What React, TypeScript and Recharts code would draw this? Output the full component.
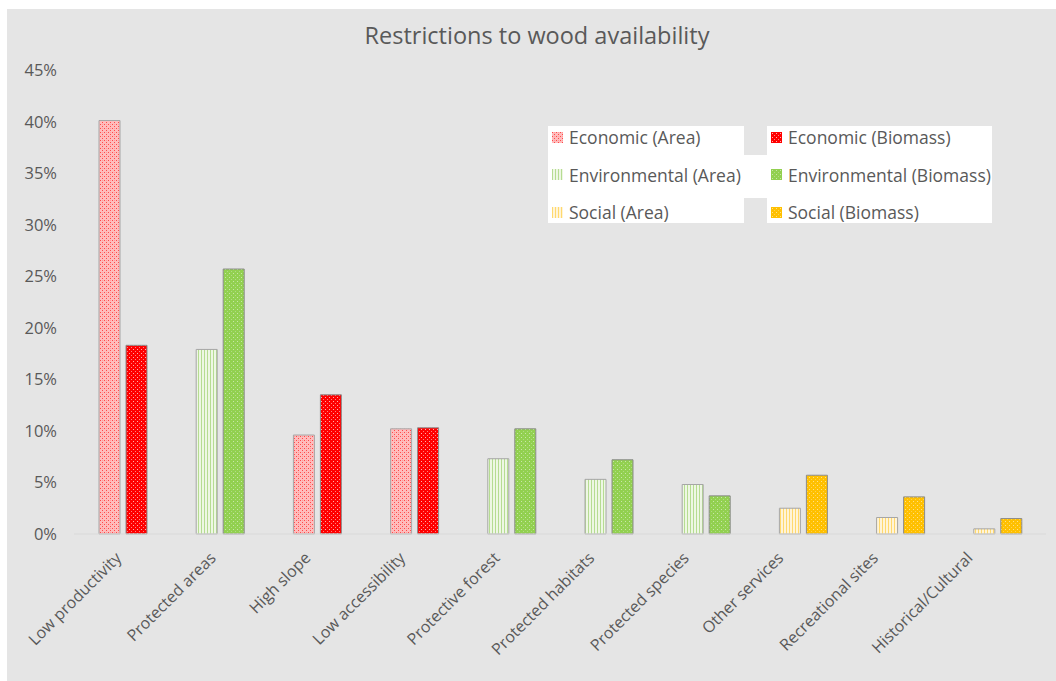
import React from 'react';
import { BarChart, Bar, XAxis, YAxis, Cell, Legend, ReferenceLine } from 'recharts';

const categories = [
  'Low productivity',
  'Protected areas',
  'High slope',
  'Low accessibility',
  'Protective forest',
  'Protected habitats',
  'Protected species',
  'Other services',
  'Recreational sites',
  'Historical/Cultural',
];
const groups = ['eco', 'env', 'eco', 'eco', 'env', 'env', 'env', 'soc', 'soc', 'soc'];
const areaValues = [40.1, 17.9, 9.6, 10.2, 7.3, 5.3, 4.8, 2.5, 1.6, 0.5];
const biomassValues = [18.3, 25.7, 13.5, 10.3, 10.2, 7.2, 3.7, 5.7, 3.6, 1.5];
const yTicks = [0, 5, 10, 15, 20, 25, 30, 35, 40, 45];

const legendLeft = [
  { label: 'Economic (Area)', fill: 'url(#eco-area)' },
  { label: 'Environmental (Area)', fill: 'url(#env-area)' },
  { label: 'Social (Area)', fill: 'url(#soc-area)' },
];
const legendRight = [
  { label: 'Economic (Biomass)', fill: 'url(#eco-bio)' },
  { label: 'Environmental (Biomass)', fill: 'url(#env-bio)' },
  { label: 'Social (Biomass)', fill: 'url(#soc-bio)' },
];

const data = categories.map((name, i) => ({
  name,
  group: groups[i],
  area: areaValues[i],
  biomass: biomassValues[i],
}));

const FONT = '"Open Sans", sans-serif';
const TEXT = '#595959';

const YTick = ({ y, payload }: any) => (
  <text x={57} y={y} dy={6} textAnchor="end" fill={TEXT} fontSize={16.5} fontFamily={FONT}>
    {payload.value}%
  </text>
);

const XLabel = ({ x, y, payload }: any) => (
  <g transform={`translate(${x + 1},${y - 13})`}>
    <text x={0} y={0} textAnchor="end" transform="rotate(-45)" fill={TEXT} fontSize={16} fontFamily={FONT}>
      {payload.value}
    </text>
  </g>
);

const rowTops = [0, 37.5, 75];

const LegendBox = () => {
  const col = (items: any[], left: number, width: number) => (
    <div style={{ position: 'absolute', left, top: 0, width, height: 97, background: '#fff' }}>
      {items.map((item, i) => (
        <div
          key={item.label}
          style={{ position: 'absolute', left: 4, top: rowTops[i], height: 22, display: 'flex', alignItems: 'center' }}
        >
          <svg width={11} height={11} style={{ marginRight: 6 }}>
            <rect width={11} height={11} fill={item.fill} />
          </svg>
          <span style={{ fontSize: 17.5, color: TEXT, fontFamily: FONT, whiteSpace: 'nowrap', lineHeight: '22px' }}>
            {item.label}
          </span>
        </div>
      ))}
    </div>
  );
  return (
    <div style={{ position: 'relative', width: 444, height: 97 }}>
      <div style={{ position: 'absolute', left: 196, top: 29, width: 30, height: 43, background: '#fff' }} />
      {col(legendLeft, 0, 196)}
      {col(legendRight, 219, 225)}
    </div>
  );
};

const fillFor = (g: string, kind: string) => `url(#${g}-${kind})`;

export default function App() {
  return (
    <div style={{ position: 'absolute', left: 0, top: 0, width: 1056, height: 681, background: '#fff', overflow: 'hidden' }}>
      <div style={{ position: 'absolute', left: 7, top: 9, right: 0, bottom: 0, background: '#e5e5e5' }} />
      <svg width={1056} height={681} style={{ position: 'absolute', left: 0, top: 0 }}>
        <defs>
          <pattern id="eco-area" width={4} height={4} patternUnits="userSpaceOnUse">
            <rect width={4} height={4} fill="#ffbcbc" />
            <rect x={0} y={0} width={1} height={1} fill="#ff4a4a" />
            <rect x={2} y={2} width={1} height={1} fill="#ff4a4a" />
            <rect x={2} y={0} width={1} height={1} fill="#ff9a9a" />
          </pattern>
          <pattern id="eco-bio" width={4} height={4} patternUnits="userSpaceOnUse">
            <rect width={4} height={4} fill="#ff0000" />
            <rect x={1} y={1} width={1} height={1} fill="#ffb0b0" />
            <rect x={3} y={3} width={1} height={1} fill="#ff8080" />
          </pattern>
          <pattern id="env-area" width={3} height={3} patternUnits="userSpaceOnUse">
            <rect width={3} height={3} fill="#eef7e4" />
            <rect x={0} y={0} width={1} height={3} fill="#b6dc92" />
          </pattern>
          <pattern id="env-bio" width={4} height={4} patternUnits="userSpaceOnUse">
            <rect width={4} height={4} fill="#92d050" />
            <rect x={1} y={1} width={1} height={1} fill="#c8e8a8" />
            <rect x={3} y={3} width={1} height={1} fill="#b0dc84" />
          </pattern>
          <pattern id="soc-area" width={3} height={3} patternUnits="userSpaceOnUse">
            <rect width={3} height={3} fill="#fff4d8" />
            <rect x={0} y={0} width={1} height={3} fill="#ffd96e" />
          </pattern>
          <pattern id="soc-bio" width={4} height={4} patternUnits="userSpaceOnUse">
            <rect width={4} height={4} fill="#ffc000" />
            <rect x={1} y={1} width={1} height={1} fill="#ffe28a" />
            <rect x={3} y={3} width={1} height={1} fill="#ffd24d" />
          </pattern>
        </defs>
        <text x={537} y={44} textAnchor="middle" fill={TEXT} fontSize={23.5} fontFamily={FONT}>
          Restrictions to wood availability
        </text>
      </svg>
      <div style={{ position: 'absolute', left: 0, top: 0 }}>
        <BarChart
          width={1056}
          height={681}
          data={data}
          margin={{ top: 70, right: 10, bottom: 0, left: 8 }}
          barSize={21}
          barGap={6}
        >
          <XAxis xAxisId={0} dataKey="name" hide />
          <XAxis
            xAxisId="lbl"
            dataKey="name"
            height={147}
            padding={{ left: 0, right: 26 }}
            axisLine={false}
            tickLine={false}
            interval={0}
            tick={<XLabel />}
          />
          <YAxis
            width={66}
            domain={[0, 45]}
            ticks={yTicks}
            axisLine={false}
            tickLine={false}
            tick={<YTick />}
          />
          <ReferenceLine y={0} stroke="#d9d9d9" />
          <Legend
            layout="vertical"
            align="center"
            verticalAlign="middle"
            wrapperStyle={{ left: 548, top: 126, width: 444 }}
            content={<LegendBox />}
          />
          <Bar dataKey="area" stroke="#a6a6a6" strokeWidth={1} isAnimationActive={false}>
            {data.map((d) => (
              <Cell key={d.name} fill={fillFor(d.group, 'area')} />
            ))}
          </Bar>
          <Bar dataKey="biomass" stroke="#8c8c8c" strokeWidth={1} isAnimationActive={false}>
            {data.map((d) => (
              <Cell key={d.name} fill={fillFor(d.group, 'bio')} />
            ))}
          </Bar>
        </BarChart>
      </div>
    </div>
  );
}
